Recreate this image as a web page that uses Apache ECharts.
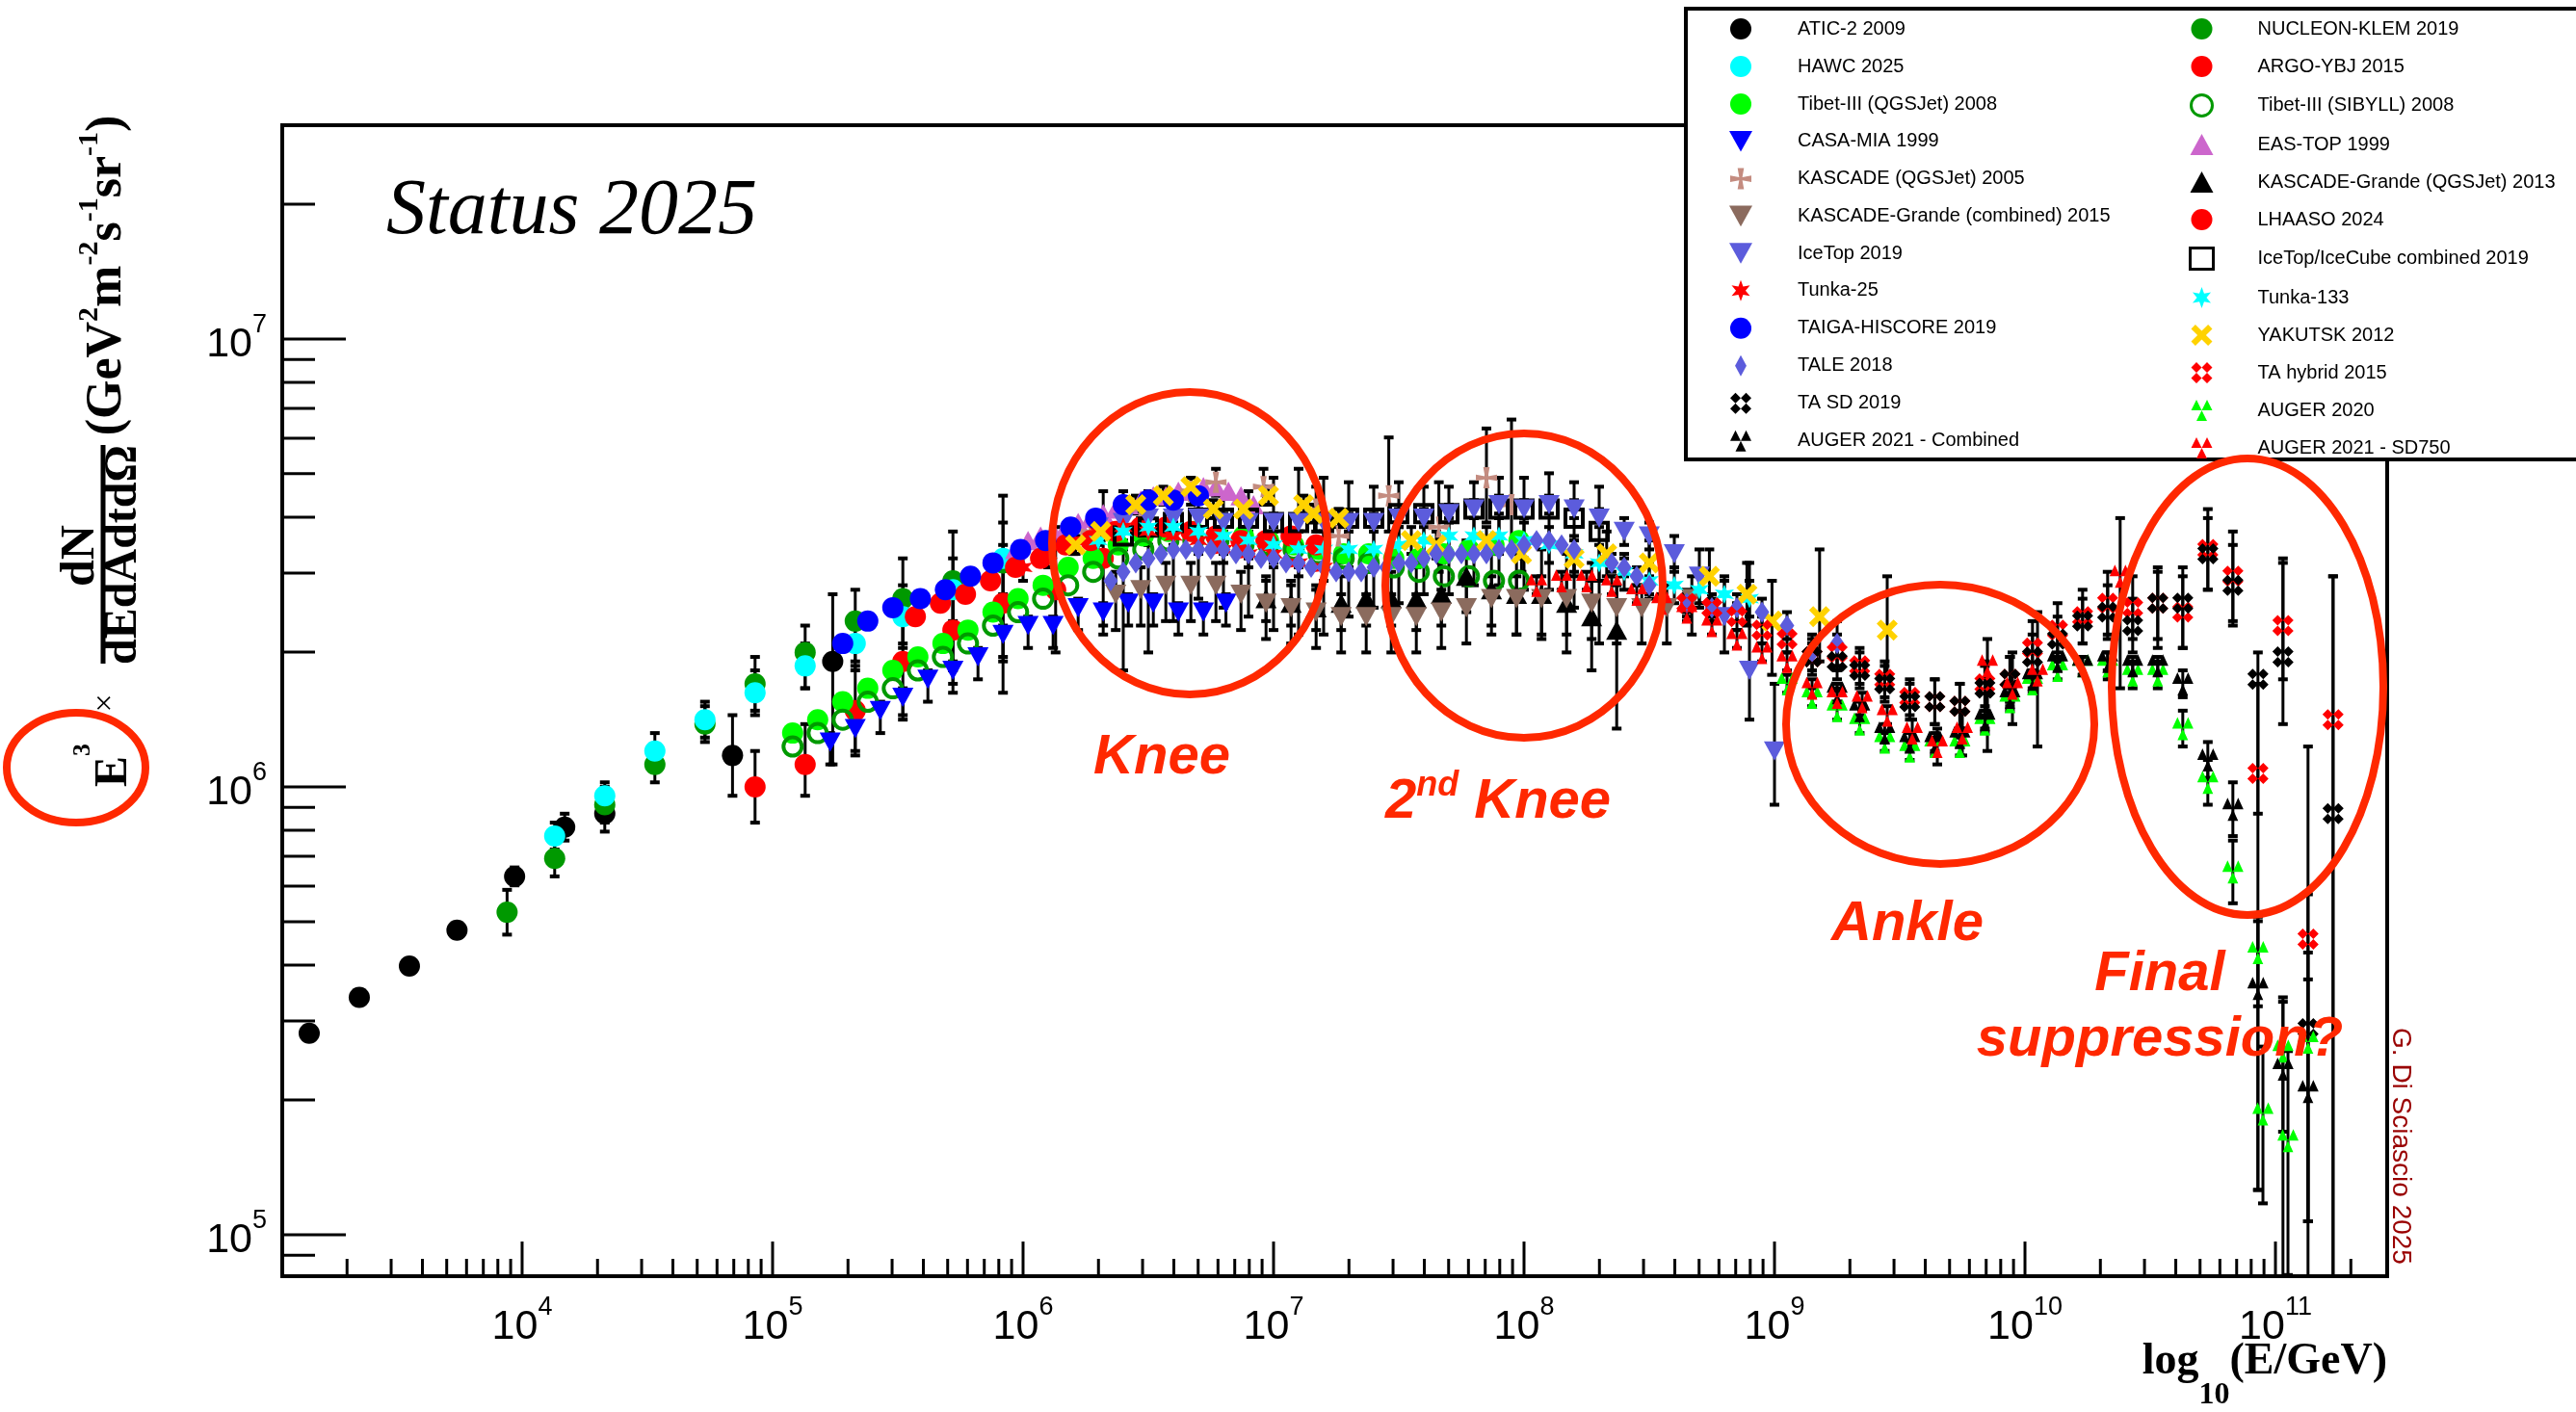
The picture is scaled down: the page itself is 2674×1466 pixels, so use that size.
<!DOCTYPE html>
<html>
<head>
<meta charset="utf-8" />
<title>Cosmic ray all-particle spectrum - Status 2025</title>
<style>
  html, body { margin: 0; padding: 0; background: #fff; }
  #main { width: 2674px; height: 1466px; }
</style>
</head>
<body>
<script src="https://cdn.jsdelivr.net/npm/echarts@6.0.0/dist/echarts.min.js"></script>
<div id="main"></div>
<script type="text/javascript">
// values, as log10(E/GeV) and log10(E^3 x flux)
// an err entry is a dex value (symmetric) or [down, up]; 0 / null = no bar

const aticE = [3.15, 3.35, 3.55, 3.74, 3.97, 4.17, 4.33, 4.84, 5.24];
const aticF = [5.45, 5.53, 5.60, 5.68, 5.80, 5.91, 5.94, 6.07, 6.28];
const aticErr = [0, 0, 0, 0, 0.02, 0.03, 0.04, 0.09, [0.23, 0.15]];

const nucleonE = [3.94, 4.13, 4.33, 4.53, 4.73, 4.93, 5.13, 5.33, 5.52, 5.72, 5.92];
const nucleonF = [5.72, 5.84, 5.96, 6.05, 6.14, 6.23, 6.30, 6.37, 6.42, 6.46, 6.50];
const nucleonErr = [0.05, 0.04, 0.04, 0.04, 0.04, 0.06, [0.08, 0.06], [0.09, 0.07], [0.10, 0.09], [0.20, 0.11], [0.29, 0.15]];

const hawcE = [4.13, 4.33, 4.53, 4.73, 4.93, 5.13, 5.33, 5.52, 5.72, 5.92];
const hawcF = [5.89, 5.98, 6.08, 6.15, 6.21, 6.27, 6.32, 6.38, 6.44, 6.51];
const hawcErr = [0.03, 0.03, 0.04, 0.04, 0.05, 0.05, 0.06, 0.07, 0.07, 0.08];

const argoE = [4.93, 5.13, 5.33, 5.52, 5.72, 5.92, 6.13, 6.32];
const argoF = [6.00, 6.05, 6.17, 6.28, 6.35, 6.41, 6.44, 6.51];
const argoErr = [0.08, [0.07, 0.09], 0.10, 0.12, 0.12, 0.13, 0.14, 0.15];

const tibetE = [5.08, 5.18, 5.28, 5.38, 5.48, 5.58, 5.68, 5.78, 5.88, 5.98, 6.08, 6.18, 6.28, 6.38, 6.48,
                6.58, 6.68, 6.78, 6.88, 6.98, 7.08, 7.18, 7.28, 7.38, 7.48, 7.58, 7.68, 7.78, 7.88, 7.98];
const tibetQgsF = [6.12, 6.15, 6.19, 6.22, 6.26, 6.29, 6.32, 6.35, 6.39, 6.42, 6.45, 6.49, 6.51, 6.54, 6.56,
                   6.57, 6.57, 6.56, 6.56, 6.55, 6.54, 6.53, 6.52, 6.52, 6.51, 6.51, 6.52, 6.53, 6.54, 6.55];
const tibetSibF = [6.09, 6.12, 6.15, 6.19, 6.22, 6.26, 6.29, 6.32, 6.36, 6.39, 6.42, 6.45, 6.48, 6.51, 6.53,
                   6.55, 6.55, 6.55, 6.54, 6.54, 6.53, 6.52, 6.51, 6.50, 6.49, 6.48, 6.47, 6.47, 6.46, 6.46];

const casaE = [5.23, 5.33, 5.43, 5.52, 5.62, 5.72, 5.82, 5.92, 6.02, 6.12, 6.22, 6.32, 6.42, 6.52, 6.62, 6.72, 6.81];
const casaF = [6.10, 6.13, 6.17, 6.20, 6.24, 6.26, 6.29, 6.34, 6.36, 6.36, 6.40, 6.39, 6.41, 6.41, 6.39, 6.39, 6.41];
const casaErr = [0.05, 0.02];

const eastopE = [5.97, 6.02, 6.07, 6.12, 6.17, 6.22, 6.27, 6.32, 6.37, 6.42, 6.47, 6.52, 6.57, 6.62, 6.67, 6.72, 6.77, 6.82, 6.87, 6.92];
const eastopF = [6.53, 6.55, 6.56, 6.57, 6.58, 6.59, 6.60, 6.61, 6.62, 6.63, 6.64, 6.65, 6.65, 6.66, 6.66, 6.67, 6.67, 6.66, 6.65, 6.63];

const kascadeE = [6.27, 6.47, 6.67, 6.77, 6.96, 7.17, 7.26, 7.46, 7.66, 7.85, 7.95];
const kascadeF = [6.57, 6.62, 6.66, 6.68, 6.67, 6.62, 6.56, 6.65, 6.58, 6.69, 6.63];
const kascadeErr = [0.02, 0.02, 0.03, 0.03, 0.04, 0.05, 0.06, [0.08, 0.13], 0.10, [0.10, 0.11], [0.10, 0.19]];

const kgQgsE = [6.97, 7.07, 7.17, 7.27, 7.37, 7.47, 7.57, 7.67, 7.77, 7.87, 7.97, 8.07, 8.17, 8.27, 8.37];
const kgQgsF = [6.42, 6.41, 6.40, 6.41, 6.42, 6.42, 6.42, 6.43, 6.47, 6.44, 6.43, 6.43, 6.41, 6.38, 6.35];
const kgQgsErr = [0.05, 0.05, 0.05, 0.06, 0.06, 0.06, 0.07, 0.07, 0.08, 0.08, 0.09, 0.10, 0.11, 0.12, [0.22, 0.12]];

const kgCombE = [6.37, 6.47, 6.57, 6.67, 6.77, 6.87, 6.97, 7.07, 7.17, 7.27, 7.37, 7.47,
                 7.57, 7.67, 7.77, 7.87, 7.97, 8.07, 8.17, 8.27, 8.37, 8.47, 8.57, 8.67];
const kgCombF = [6.43, 6.44, 6.45, 6.45, 6.45, 6.43, 6.41, 6.40, 6.39, 6.38, 6.38, 6.38,
                 6.38, 6.39, 6.40, 6.42, 6.42, 6.42, 6.42, 6.41, 6.40, 6.40, 6.40, 6.42];
const kgCombErr = [0.08, 0.05];

const lhaasoE = [5.57, 5.67, 5.77, 5.87, 5.97, 6.07, 6.17, 6.27, 6.37, 6.47, 6.57, 6.67, 6.77, 6.87, 6.97, 7.07, 7.17];
const lhaasoF = [6.38, 6.41, 6.43, 6.46, 6.49, 6.51, 6.54, 6.55, 6.57, 6.58, 6.58, 6.57, 6.56, 6.55, 6.55, 6.56, 6.54];

const icetopE = [6.3, 6.4, 6.5, 6.6, 6.7, 6.8, 6.9, 7.0, 7.1, 7.2, 7.3, 7.4, 7.5, 7.6, 7.7, 7.8, 7.9, 8.0,
                 8.1, 8.2, 8.3, 8.4, 8.5, 8.6, 8.7, 8.8, 8.9, 9.0];
const icetopF = [6.58, 6.59, 6.60, 6.60, 6.60, 6.59, 6.59, 6.59, 6.59, 6.59, 6.59, 6.59, 6.60, 6.60, 6.61, 6.62, 6.63, 6.62,
                 6.63, 6.62, 6.60, 6.57, 6.56, 6.52, 6.47, 6.38, 6.26, 6.08];
const icetopErr = [0.02, 0.02, 0.02, 0.02, 0.02, 0.02, 0.02, 0.02, 0.02, 0.02, 0.02, 0.02, 0.02, 0.02, 0.02, 0.02, 0.02, 0.02,
                   0.02, 0.02, 0.02, 0.03, 0.03, 0.04, 0.06, 0.08, [0.11, 0.24], [0.12, 0.15]];

const icecubeE = [6.4, 6.5, 6.6, 6.7, 6.8, 6.9, 7.0, 7.1, 7.2, 7.3, 7.4, 7.5, 7.6, 7.7, 7.8, 7.9, 8.0, 8.1, 8.2, 8.3];
const icecubeF = [6.56, 6.58, 6.59, 6.60, 6.60, 6.60, 6.59, 6.59, 6.59, 6.60, 6.60, 6.61, 6.61, 6.61, 6.62, 6.62, 6.62, 6.62, 6.60, 6.57];
const icecubeErr = [[0.30, 0.10], [0.28, 0.08], [0.22, 0.06], [0.18, 0.06], [0.20, 0.05], [0.22, 0.06], [0.24, 0.10],
                    [0.25, 0.12], [0.25, 0.10], [0.22, 0.08], [0.20, 0.07], [0.20, 0.07], [0.18, 0.06], [0.18, 0.06],
                    [0.17, 0.06], [0.17, 0.07], [0.18, 0.07], [0.18, 0.08], [0.20, 0.08], [0.25, 0.10]];

const tunka25E = [6.0, 6.1, 6.2, 6.3, 6.4, 6.5, 6.6, 6.7, 6.8, 6.9, 7.0, 7.1, 7.2];
const tunka25F = [6.49, 6.52, 6.55, 6.57, 6.58, 6.57, 6.56, 6.55, 6.53, 6.52, 6.52, 6.50, 6.49];

const tunka133E = [6.3, 6.4, 6.5, 6.6, 6.7, 6.8, 6.9, 7.0, 7.1, 7.2, 7.3, 7.4, 7.5, 7.6, 7.7, 7.8, 7.9, 8.0,
                   8.1, 8.2, 8.3, 8.4, 8.5, 8.6, 8.7, 8.8, 8.9];
const tunka133F = [6.55, 6.57, 6.58, 6.58, 6.57, 6.56, 6.55, 6.54, 6.53, 6.53, 6.53, 6.53, 6.54, 6.55, 6.56, 6.56, 6.56, 6.55,
                   6.54, 6.52, 6.50, 6.48, 6.46, 6.45, 6.44, 6.43, 6.42];

const taigaE = [5.28, 5.38, 5.48, 5.59, 5.69, 5.79, 5.88, 5.99, 6.09, 6.19, 6.29, 6.40, 6.50, 6.60, 6.70];
const taigaF = [6.32, 6.37, 6.40, 6.42, 6.44, 6.47, 6.50, 6.53, 6.55, 6.58, 6.60, 6.63, 6.64, 6.64, 6.65];

const yakutskE = [6.21, 6.31, 6.45, 6.56, 6.67, 6.76, 6.88, 6.98, 7.12, 7.16, 7.26, 7.55, 7.65, 7.85, 7.99, 8.20,
                  8.33, 8.50, 8.74, 8.89, 8.99, 9.18, 9.45];
const yakutskF = [6.54, 6.57, 6.63, 6.65, 6.67, 6.62, 6.62, 6.65, 6.63, 6.61, 6.60, 6.55, 6.54, 6.55, 6.52, 6.51,
                  6.52, 6.50, 6.47, 6.43, 6.37, 6.38, 6.35];
const yakutskErr = [0.02, 0.02, 0.02, 0.02, 0.02, 0.02, 0.02, 0.02, 0.02, 0.02, 0.02, 0.03, 0.03, 0.03, 0.04, 0.04,
                    0.05, 0.05, 0.06, 0.07, [0.12, 0.09], [0.10, 0.15], [0.10, 0.12]];

const taleE = [6.35, 6.40, 6.45, 6.50, 6.55, 6.60, 6.65, 6.70, 6.75, 6.80, 6.85, 6.90, 6.95, 7.00, 7.05, 7.10,
               7.15, 7.20, 7.25, 7.30, 7.35, 7.40, 7.45, 7.50, 7.55, 7.60, 7.65, 7.70, 7.75, 7.80, 7.85, 7.90,
               7.95, 8.00, 8.05, 8.10, 8.15, 8.20, 8.35, 8.40, 8.45, 8.50, 8.65, 8.75, 8.85, 8.95, 9.05, 9.15, 9.25];
const taleF = [6.46, 6.48, 6.50, 6.51, 6.52, 6.53, 6.53, 6.53, 6.53, 6.53, 6.52, 6.52, 6.51, 6.51, 6.50, 6.50,
               6.49, 6.49, 6.48, 6.48, 6.48, 6.49, 6.49, 6.50, 6.50, 6.51, 6.52, 6.52, 6.52, 6.52, 6.52, 6.53,
               6.53, 6.54, 6.55, 6.55, 6.54, 6.53, 6.50, 6.49, 6.47, 6.45, 6.41, 6.40, 6.40, 6.39, 6.36, 6.30, 6.32];
const taleErr = [0, 0, 0, 0, 0, 0, 0, 0, 0, 0, 0, 0, 0, 0, 0, 0,
                 0, 0, 0, 0, 0, 0, 0, 0, 0, 0, 0, 0, 0, 0, 0, 0,
                 0, 0, 0, 0, 0, 0, 0.02, 0.02, 0.02, 0.02, 0.02, 0.02, 0.03, 0.03, 0.03, 0.04, 0.05];

const taHybE = [8.65, 8.75, 8.85, 8.95, 9.05, 9.15, 9.25, 9.34, 9.44, 9.54, 9.64, 9.74, 9.84, 9.94,
                10.03, 10.13, 10.23, 10.33, 10.43, 10.53, 10.63, 10.73, 10.83, 10.93, 11.03, 11.13, 11.23];
const taHybF = [6.41, 6.40, 6.38, 6.35, 6.33, 6.29, 6.30, 6.27, 6.24, 6.20, 6.19, 6.18, 6.23, 6.24,
                6.31, 6.35, 6.38, 6.41, 6.40, 6.41, 6.39, 6.53, 6.47, 6.03, 6.36, 5.66, 6.15];
const taHybErr = [0.03, 0.03, 0.03, 0.03, 0.03, 0.03, 0.04, 0.04, 0.04, 0.04, 0.05, 0.05, 0.05, 0.05,
                  0.06, 0.06, 0.06, 0.07, 0.07, 0.08, 0.08, 0.09, 0.10, [0.93, 0.20], [0.12, 0.15], [0.63, 0.43], [1.30, 0.32]];

const taSdE = [9.15, 9.25, 9.34, 9.44, 9.54, 9.64, 9.74, 9.84, 9.94, 10.03, 10.13, 10.23, 10.33, 10.43,
               10.53, 10.63, 10.73, 10.83, 10.93, 11.03, 11.13, 11.23];
const taSdF = [6.29, 6.28, 6.26, 6.23, 6.19, 6.19, 6.18, 6.22, 6.24, 6.29, 6.33, 6.37, 6.39, 6.36,
               6.41, 6.41, 6.52, 6.45, 6.24, 6.29, 5.46, 5.94];
const taSdErr = [0.04, 0.04, 0.04, 0.04, 0.04, 0.05, 0.05, 0.05, 0.05, 0.05, 0.05, 0.05, 0.06, 0.06,
                 [0.10, 0.07], [0.10, 0.08], 0.08, 0.09, [0.30, 0.06], [0.15, 0.21], [0.56, 0.30], [1.10, 0.53]];

const auger20E = [9.05, 9.15, 9.25, 9.34, 9.44, 9.54, 9.64, 9.74, 9.84, 9.94, 10.03, 10.13, 10.23, 10.33,
                  10.43, 10.53, 10.63, 10.73, 10.83, 10.93, 10.95, 11.03, 11.05, 11.13];
const auger20F = [6.23, 6.20, 6.17, 6.14, 6.10, 6.08, 6.09, 6.09, 6.14, 6.19, 6.23, 6.26, 6.27, 6.27,
                  6.25, 6.25, 6.13, 6.01, 5.81, 5.63, 5.27, 5.41, 5.21, 5.43];
const auger20Err = [0.02, 0.02, 0.02, 0.02, 0.02, 0.02, 0.02, 0.02, 0.02, 0.02, 0.02, 0.02, 0.02, 0.03,
                    0.03, 0.03, 0.04, 0.05, 0.07, [0.12, 0.08], [0.20, 0.15], [0.18, 0.12], [0.30, 0.20], [0.40, 0.20]];

const augerCombE = [9.25, 9.34, 9.44, 9.54, 9.64, 9.74, 9.84, 9.94, 10.03, 10.13, 10.23, 10.33, 10.43, 10.53,
                    10.63, 10.73, 10.83, 10.93, 11.03, 11.13];
const augerCombF = [6.21, 6.17, 6.12, 6.10, 6.10, 6.11, 6.15, 6.20, 6.24, 6.28, 6.27, 6.28, 6.27, 6.27,
                    6.23, 6.06, 5.95, 5.55, 5.37, 5.32];
const augerCombErr = [0.02, 0.02, 0.02, 0.02, 0.02, 0.02, 0.02, 0.02, 0.02, 0.02, 0.02, 0.02, 0.02, 0.02,
                      0.03, 0.04, 0.06, [0.45, 0.15], [0.60, 0.15], [0.29, 0.25]];

const sd750E = [8.05, 8.15, 8.25, 8.35, 8.45, 8.55, 8.65, 8.75, 8.85, 8.95, 9.05, 9.15, 9.25, 9.35, 9.45,
                9.55, 9.65, 9.75, 9.85, 9.95, 10.05, 10.38];
const sd750F = [6.45, 6.46, 6.46, 6.45, 6.43, 6.41, 6.39, 6.36, 6.33, 6.30, 6.28, 6.22, 6.20, 6.19, 6.16,
                6.12, 6.09, 6.12, 6.27, 6.22, 6.25, 6.47];
const sd750Err = [0.02, 0.02, 0.02, 0.02, 0.02, 0.02, 0.02, 0.02, 0.02, 0.02, 0.02, 0.02, 0.02, 0.02, 0.02,
                  0.03, 0.04, 0.05, [0.19, 0.06], 0.08, [0.16, 0.14], [0.25, 0.13]];

// axis ranges (pixel frame of the original ROOT canvas)
const X_MIN = 1102.6, X_MAX = 2.793e11;
const Y_MIN = 8.08e4, Y_MAX = 3.0e7;

const RED = '#FF2800';
const SERIF = '"Liberation Serif", "DejaVu Serif", serif';
const SANS = '"Liberation Sans", Arial, sans-serif';

// marker shapes
const DOWN = 'path://M0,0L20,0L10,18Z';
const CROSS = 'path://M7,0L13,0L11.5,8.5L20,7L20,13L11.5,11.5L13,20L7,20L8.5,11.5L0,13L0,7L8.5,8.5Z';
const XMARK = 'path://M0,4L4,0L10,6L16,0L20,4L14,10L20,16L16,20L10,14L4,20L0,16L6,10Z';
const CLOVER = 'path://M5,0L10,5L5,10L0,5Z M15,0L20,5L15,10L10,5Z M5,10L10,15L5,20L0,15Z M15,10L20,15L15,20L10,15Z';
const TRI3 = 'path://M0,10L5,0L10,10Z M10,10L15,0L20,10Z M5,20L10,10L15,20Z';
const STAR = 'path://M10,0L12.25,6.1L18.66,5L14.5,10L18.66,15L12.25,13.9L10,20L7.75,13.9L1.34,15L5.5,10L1.34,5L7.75,6.1Z';
const LOZ = 'path://M7,0L14,13L7,26L0,13Z';

// legend order (row by row); `draw` sets the stacking order of the marks
const SETS = [
  { name: 'ATIC-2 2009', e: aticE, f: aticF, err: aticErr, symbol: 'circle', size: 22, color: '#000000', draw: 0 },
  { name: 'NUCLEON-KLEM 2019', e: nucleonE, f: nucleonF, err: nucleonErr, symbol: 'circle', size: 22, color: '#009900', draw: 1 },
  { name: 'HAWC 2025', e: hawcE, f: hawcF, err: hawcErr, symbol: 'circle', size: 22, color: '#00FFFF', draw: 2 },
  { name: 'ARGO-YBJ 2015', e: argoE, f: argoF, err: argoErr, symbol: 'circle', size: 22, color: '#FF0000', draw: 3 },
  { name: 'Tibet-III (QGSJet) 2008', e: tibetE, f: tibetQgsF, err: null, symbol: 'circle', size: 22, color: '#00FF00', draw: 4 },
  { name: 'Tibet-III (SIBYLL) 2008', e: tibetE, f: tibetSibF, err: null, symbol: 'circle', size: 19, color: '#009900', hollow: true, draw: 5 },
  { name: 'CASA-MIA 1999', e: casaE, f: casaF, err: casaErr, symbol: DOWN, size: [22, 20], color: '#0000FF', draw: 6 },
  { name: 'EAS-TOP 1999', e: eastopE, f: eastopF, err: null, symbol: 'triangle', size: [22, 20], color: '#CC66CC', draw: 7 },
  { name: 'KASCADE (QGSJet) 2005', e: kascadeE, f: kascadeF, err: kascadeErr, symbol: CROSS, size: 22, color: '#C48C80', draw: 8 },
  { name: 'KASCADE-Grande (QGSJet) 2013', e: kgQgsE, f: kgQgsF, err: kgQgsErr, symbol: 'triangle', size: [22, 20], color: '#000000', draw: 9 },
  { name: 'KASCADE-Grande (combined) 2015', e: kgCombE, f: kgCombF, err: kgCombErr, symbol: DOWN, size: [22, 20], color: '#8B6B5E', draw: 10 },
  { name: 'LHAASO 2024', e: lhaasoE, f: lhaasoF, err: null, symbol: 'circle', size: 22, color: '#FF0000', draw: 11 },
  { name: 'IceTop 2019', e: icetopE, f: icetopF, err: icetopErr, symbol: DOWN, size: [22, 20], color: '#5C5CDC', draw: 13 },
  { name: 'IceTop/IceCube combined 2019', e: icecubeE, f: icecubeF, err: icecubeErr, symbol: 'rect', size: 18, color: '#000000', hollow: true, draw: 12 },
  { name: 'Tunka-25', e: tunka25E, f: tunka25F, err: 0.03, symbol: STAR, size: 20, color: '#FF0000', draw: 14 },
  { name: 'Tunka-133', e: tunka133E, f: tunka133F, err: 0.04, symbol: STAR, size: 20, color: '#00FFFF', draw: 15 },
  { name: 'TAIGA-HISCORE 2019', e: taigaE, f: taigaF, err: null, symbol: 'circle', size: 22, color: '#0000FF', draw: 16 },
  { name: 'YAKUTSK 2012', e: yakutskE, f: yakutskF, err: yakutskErr, symbol: XMARK, size: 22, color: '#FFD200', draw: 17 },
  { name: 'TALE 2018', e: taleE, f: taleF, err: taleErr, symbol: LOZ, size: [15, 22], color: '#5C5CDC', draw: 18 },
  { name: 'TA hybrid 2015', e: taHybE, f: taHybF, err: taHybErr, symbol: CLOVER, size: 22, color: '#FF0000', draw: 19 },
  { name: 'TA SD 2019', e: taSdE, f: taSdF, err: taSdErr, symbol: CLOVER, size: 22, color: '#000000', draw: 20 },
  { name: 'AUGER 2020', e: auger20E, f: auger20F, err: auger20Err, symbol: TRI3, size: [22, 24], color: '#00FF00', draw: 21 },
  { name: 'AUGER 2021 - Combined', e: augerCombE, f: augerCombF, err: augerCombErr, symbol: TRI3, size: [22, 24], color: '#000000', draw: 22 },
  { name: 'AUGER 2021 - SD750', e: sd750E, f: sd750F, err: sd750Err, symbol: TRI3, size: [22, 24], color: '#FF0000', draw: 23 }
];

function toPoints(e, f) {
  return e.map((le, i) => [Math.pow(10, le), Math.pow(10, f[i])]);
}

function toBars(e, f, err) {
  if (!err) return [];
  // a plain number or a lone [down, up] pair applies to every point
  const shared = typeof err === 'number' || (err.length === 2 && typeof err[0] === 'number' && err.length !== e.length);
  const out = [];
  e.forEach((le, i) => {
    const d = shared ? err : err[i];
    if (!d) return;
    const lo = Array.isArray(d) ? d[0] : d;
    const hi = Array.isArray(d) ? d[1] : d;
    out.push([Math.pow(10, le), Math.pow(10, f[i]), Math.pow(10, f[i] - lo), Math.pow(10, f[i] + hi)]);
  });
  return out;
}

function renderErr(params, api) {
  const x = api.value(0);
  const top = api.coord([x, api.value(3)]);
  const bot = api.coord([x, api.value(2)]);
  const c = 5;
  return {
    type: 'group',
    children: [
      { type: 'line', shape: { x1: top[0], y1: top[1], x2: bot[0], y2: bot[1] }, style: { stroke: '#000', lineWidth: 3 } },
      { type: 'line', shape: { x1: top[0] - c, y1: top[1], x2: top[0] + c, y2: top[1] }, style: { stroke: '#000', lineWidth: 4 } },
      { type: 'line', shape: { x1: bot[0] - c, y1: bot[1], x2: bot[0] + c, y2: bot[1] }, style: { stroke: '#000', lineWidth: 4 } }
    ]
  };
}

// ROOT-like ticks: majors at decades, minors at 2..9
const xTicks = [];
for (let p = 3; p <= 11; p++) {
  for (let k = 1; k <= 9; k++) {
    const v = k * Math.pow(10, p);
    if (v > X_MIN && v < X_MAX) xTicks.push([v, 1e6, k === 1 ? 1 : 0]);
  }
}
const yTicks = [];
for (let p = 4; p <= 7; p++) {
  for (let k = 1; k <= 9; k++) {
    const v = k * Math.pow(10, p);
    if (v > Y_MIN && v < Y_MAX) yTicks.push([1e6, v, k === 1 ? 1 : 0]);
  }
}

function renderXTick(params, api) {
  const cs = params.coordSys;
  const x = api.coord([api.value(0), 1e6])[0];
  const y0 = cs.y + cs.height;
  const len = api.value(2) ? 36 : 18;
  return { type: 'line', shape: { x1: x, y1: y0, x2: x, y2: y0 - len }, style: { stroke: '#000', lineWidth: 3 } };
}
function renderYTick(params, api) {
  const cs = params.coordSys;
  const y = api.coord([1e6, api.value(1)])[1];
  const len = api.value(2) ? 66 : 34;
  return { type: 'line', shape: { x1: cs.x, y1: y, x2: cs.x + len, y2: y }, style: { stroke: '#000', lineWidth: 3 } };
}

function powLabel(v) {
  const p = Math.log10(v);
  const r = Math.round(p);
  if (Math.abs(p - r) > 1e-6) return '';
  return '{b|10}{e|' + r + '}';
}
const powRich = {
  b: { fontSize: 43, fontFamily: SANS, color: '#000', lineHeight: 56, verticalAlign: 'bottom' },
  e: { fontSize: 27, fontFamily: SANS, color: '#000', lineHeight: 27, verticalAlign: 'top' }
};

const series = [];
SETS.slice().sort((a, b) => a.draw - b.draw).forEach(s => {
  const bars = toBars(s.e, s.f, s.err);
  if (bars.length) {
    series.push({
      name: s.name + ' errors', type: 'custom', renderItem: renderErr, data: bars,
      encode: { x: 0, y: 1 }, clip: true, silent: true, z: 2
    });
  }
  const itemStyle = s.hollow
    ? { color: 'rgba(0,0,0,0)', borderColor: s.color, borderWidth: 4, opacity: 1 }
    : { color: s.color, opacity: 1 };
  series.push({
    name: s.name, type: 'scatter', data: toPoints(s.e, s.f),
    symbol: s.symbol, symbolSize: s.size, itemStyle: itemStyle,
    clip: true, silent: true, z: 2
  });
});
series.push({ name: 'xticks', type: 'custom', renderItem: renderXTick, data: xTicks, encode: { x: 0, y: 1 }, silent: true, z: 3 });
series.push({ name: 'yticks', type: 'custom', renderItem: renderYTick, data: yTicks, encode: { x: 0, y: 1 }, silent: true, z: 3 });

function legendItem(name) {
  if (name === 'Tibet-III (SIBYLL) 2008') {
    return { name: name, itemStyle: { color: 'rgba(0,0,0,0)', borderColor: '#009900', borderWidth: 3 } };
  }
  if (name === 'IceTop/IceCube combined 2019') {
    return { name: name, itemStyle: { color: 'rgba(0,0,0,0)', borderColor: '#000', borderWidth: 3 } };
  }
  return { name: name };
}
const col1 = SETS.filter((s, i) => i % 2 === 0).map(s => legendItem(s.name));
const col2 = SETS.filter((s, i) => i % 2 === 1).map(s => legendItem(s.name));
const legendBase = {
  orient: 'vertical', top: 19, itemWidth: 24, itemHeight: 22, itemGap: 17, padding: 0,
  selectedMode: false, z: 60, symbolKeepAspect: true
};

const txt = (x, y, text, font) => ({
  type: 'text', x: x, y: y, z: 70,
  style: { text: text, font: font, fill: RED, align: 'center', verticalAlign: 'middle' }
});
const ring = (cx, cy, rx, ry) => ({
  type: 'ellipse', z: 70, shape: { cx: cx, cy: cy, rx: rx, ry: ry },
  style: { fill: 'none', stroke: RED, lineWidth: 8 }
});
const BI = 'italic bold 58px ' + SANS;

const option = {
  backgroundColor: '#ffffff',
  animation: false,
  grid: { left: 293, right: 196, top: 130, bottom: 141, show: true, borderColor: '#000', borderWidth: 4, backgroundColor: 'rgba(0,0,0,0)' },
  xAxis: {
    type: 'log', logBase: 10, min: X_MIN, max: X_MAX, splitNumber: 8,
    axisLine: { show: false }, axisTick: { show: false }, splitLine: { show: false },
    axisLabel: { margin: 19, interval: 0, showMinLabel: false, showMaxLabel: false, formatter: powLabel, rich: powRich }
  },
  yAxis: {
    type: 'log', logBase: 10, min: Y_MIN, max: Y_MAX,
    axisLine: { show: false }, axisTick: { show: false }, splitLine: { show: false },
    axisLabel: { margin: 16, interval: 0, showMinLabel: false, showMaxLabel: false, formatter: powLabel, rich: powRich }
  },
  legend: [
    Object.assign({}, legendBase, { data: col1, left: 1795, textStyle: { fontSize: 20, fontFamily: SANS, color: '#000', padding: [0, 0, 0, 42] } }),
    Object.assign({}, legendBase, { data: col2, left: 2272, textStyle: { fontSize: 20, fontFamily: SANS, color: '#000', padding: [0, 0, 0, 41] } })
  ],
  graphic: [
    { type: 'rect', z: 50, shape: { x: 1750, y: 9, width: 940, height: 468 }, style: { fill: '#fff', stroke: '#000', lineWidth: 4 } },
    { type: 'text', x: 401, y: 220, z: 70, style: { text: 'Status 2025', font: 'italic 82px ' + SERIF, fill: '#000', align: 'left', verticalAlign: 'middle' } },
    // x axis title
    { type: 'text', x: 2478, y: 1428, z: 70, style: {
      text: '{a|log}{b|10}{a|(E/GeV)}', align: 'right', verticalAlign: 'middle',
      rich: {
        a: { fontSize: 46, fontWeight: 'bold', fontFamily: SERIF, fill: '#000', lineHeight: 46, verticalAlign: 'top' },
        b: { fontSize: 32, fontWeight: 'bold', fontFamily: SERIF, fill: '#000', lineHeight: 74, verticalAlign: 'bottom' }
      } } },
    // y axis title, drawn rotated (reads bottom to top)
    { type: 'group', x: 0, y: 800, rotation: Math.PI / 2, z: 70, children: [
      { type: 'text', x: -17, y: 108, style: {
        text: '{e|E}{s|3}', align: 'left', verticalAlign: 'middle',
        rich: {
          e: { fontSize: 48, fontWeight: 'bold', fontFamily: SERIF, fill: '#000', lineHeight: 70, verticalAlign: 'bottom' },
          s: { fontSize: 26, fontWeight: 'bold', fontFamily: SERIF, fill: '#000', lineHeight: 26, verticalAlign: 'top' }
        } } },
      { type: 'text', x: 70, y: 110, style: { text: '\u00d7', font: '34px ' + SERIF, fill: '#000', align: 'center', verticalAlign: 'middle' } },
      { type: 'text', x: 223, y: 84, style: { text: 'dN', font: 'bold 50px ' + SERIF, fill: '#000', align: 'center', verticalAlign: 'middle' } },
      { type: 'line', shape: { x1: 111, y1: 107, x2: 338, y2: 107 }, style: { stroke: '#000', lineWidth: 5 } },
      { type: 'text', x: 224, y: 129, style: { text: 'dEdAdtd\u03a9', font: 'bold 48px ' + SERIF, fill: '#000', align: 'center', verticalAlign: 'middle' } },
      { type: 'text', x: 514, y: 108, style: {
        text: '{m|(GeV}{s|2}{m|m}{s|-2}{m|s}{s|-1}{m|sr}{s|-1}{m|)}', align: 'center', verticalAlign: 'middle',
        rich: {
          m: { fontSize: 52, fontWeight: 'bold', fontFamily: SERIF, fill: '#000', lineHeight: 60, verticalAlign: 'bottom' },
          s: { fontSize: 30, fontWeight: 'bold', fontFamily: SERIF, fill: '#000', lineHeight: 30, verticalAlign: 'top' }
        } } }
    ] },
    ring(79, 797, 72, 57),
    // annotations
    ring(1235, 564, 143, 157),
    ring(1582, 608, 144, 158),
    ring(2014, 752, 160, 145),
    ring(2333, 713, 141, 237),
    txt(1206, 787, 'Knee', BI),
    { type: 'text', x: 1555, y: 830, z: 70, style: {
      text: '{a|2}{b|nd}{a| Knee}', align: 'center', verticalAlign: 'middle',
      rich: {
        a: { fontSize: 58, fontWeight: 'bold', fontStyle: 'italic', fontFamily: SANS, fill: RED, lineHeight: 64, verticalAlign: 'bottom' },
        b: { fontSize: 36, fontWeight: 'bold', fontStyle: 'italic', fontFamily: SANS, fill: RED, lineHeight: 36, verticalAlign: 'top' }
      } } },
    txt(1980, 960, 'Ankle', BI),
    txt(2242, 1012, 'Final', BI),
    txt(2242, 1080, 'suppression?', BI),
    // author tag, reads top to bottom
    { type: 'text', x: 2492, y: 1190, rotation: -Math.PI / 2, z: 70, style: { text: 'G. Di Sciascio 2025', font: '28px ' + SANS, fill: '#990000', align: 'center', verticalAlign: 'middle' } }
  ],
  series: series
};

const chart = echarts.init(document.getElementById('main'), null, { renderer: 'canvas' });
chart.setOption(option);
</script>
</body>
</html>
